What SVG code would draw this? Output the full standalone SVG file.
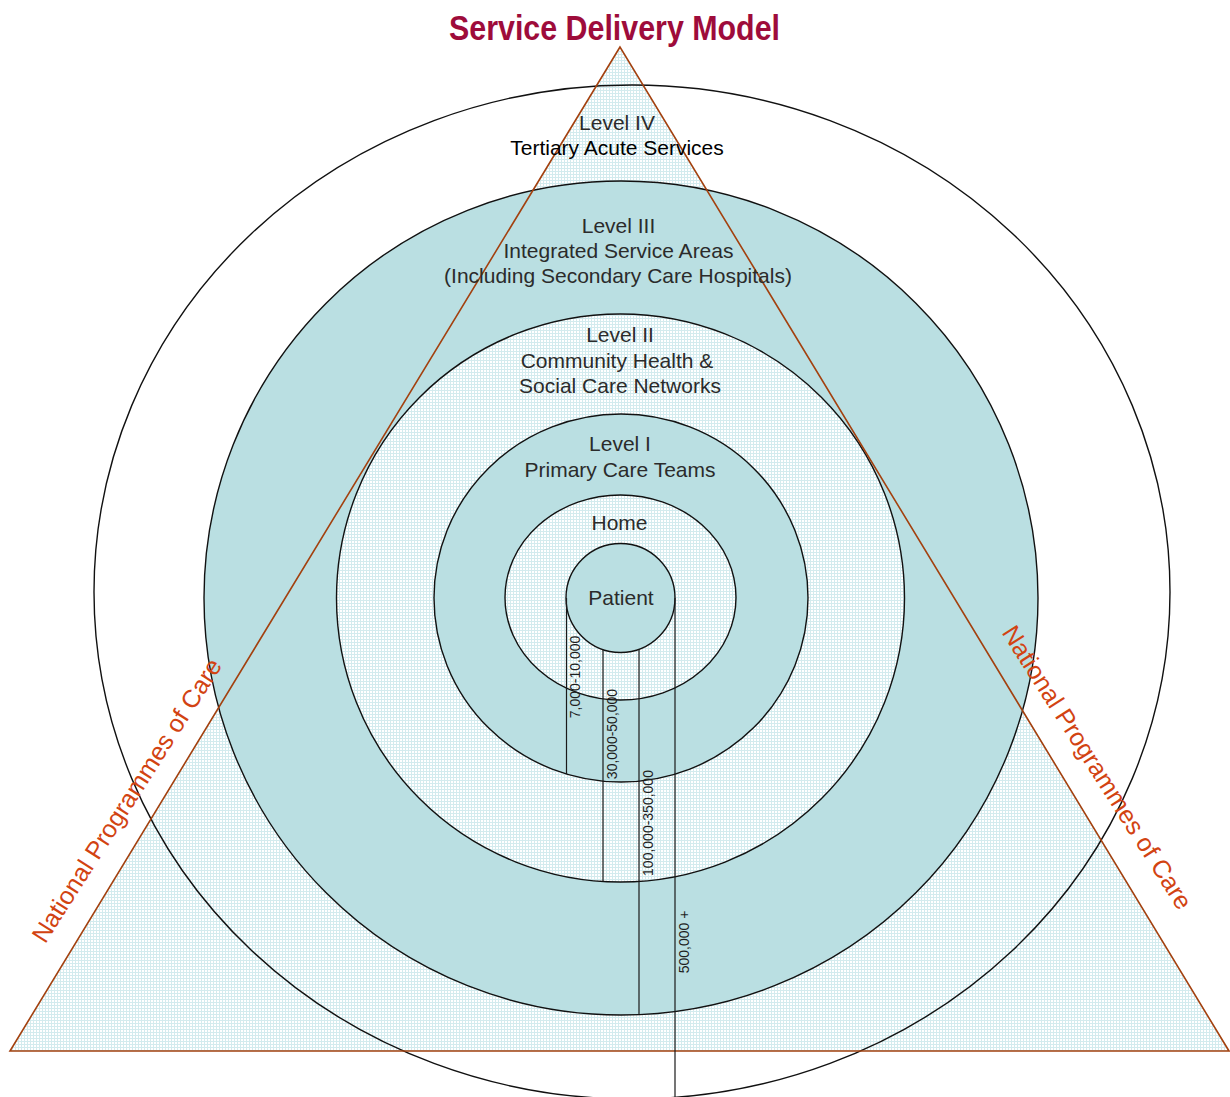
<svg xmlns="http://www.w3.org/2000/svg" width="1230" height="1097" viewBox="0 0 1230 1097">
  <defs>
    <!-- fine light-teal grid used for the "open" bands and the programme triangle -->
    <pattern id="grid" x="0" y="0" width="3" height="3" patternUnits="userSpaceOnUse">
      <rect width="3" height="3" fill="#ffffff"/>
      <rect width="3" height="1" fill="#d3ebee"/>
      <rect width="1" height="3" fill="#d3ebee"/>
    </pattern>
    <style>
      .ring { stroke: #111; stroke-width: 1.4; }
      .solid { fill: #badfe2; }
      .open { fill: url(#grid); }
      .edge { fill: none; stroke: #a3410f; stroke-width: 1.6; }
      .pop { stroke: #1a1a1a; stroke-width: 1.2; fill: none; }
      .lbl { font-family: "Liberation Sans", Arial, sans-serif; font-size: 21px; fill: #2b2b2b; text-anchor: middle; }
      .num { font-family: "Liberation Sans", Arial, sans-serif; font-size: 14px; fill: #1e1e1e; text-anchor: middle; }
      .npc { font-family: "Liberation Sans", Arial, sans-serif; font-size: 25px; fill: #d24312; text-anchor: middle; }
    </style>
  </defs>

  <rect width="1230" height="1097" fill="#ffffff"/>

  <!-- outermost band: tertiary services -->
  <g id="level-iv">
    <ellipse cx="632" cy="592" rx="538" ry="507" fill="#ffffff"/>
  </g>

  <!-- national programmes of care: shaded triangle area -->
  <g id="national-programmes">
    <polygon points="620,47 10,1051 1229,1051" class="open"/>
  </g>

  <g id="level-iv-outline">
    <ellipse cx="632" cy="592" rx="538" ry="507" fill="none" class="ring"/>
  </g>

  <g id="level-iii">
    <circle cx="621" cy="598" r="417" class="solid ring"/>
  </g>

  <g id="level-ii">
    <ellipse cx="620.5" cy="598" rx="284" ry="284" class="open ring"/>
  </g>

  <g id="level-i">
    <ellipse cx="621" cy="598" rx="187" ry="184" class="solid ring"/>
  </g>

  <g id="home">
    <ellipse cx="620.5" cy="597.5" rx="115.5" ry="102.5" class="open ring"/>
  </g>

  <g id="patient">
    <circle cx="620.5" cy="598" r="54.5" class="solid ring"/>
  </g>

  <!-- triangle outline sits above the bands -->
  <g id="national-programmes-edges">
    <polygon points="620,47 10,1051 1229,1051" class="edge"/>
  </g>

  <!-- population reach lines running from the patient outwards -->
  <g id="connectors">
    <line x1="566.5" y1="598" x2="566.5" y2="774" class="pop"/>
    <line x1="603" y1="650" x2="603" y2="881.5" class="pop"/>
    <line x1="639" y1="649.5" x2="639" y2="1014.5" class="pop"/>
    <line x1="675" y1="598" x2="675" y2="1097" class="pop"/>
  </g>

  <g id="population-labels">
    <text class="num" transform="translate(580,677) rotate(-90)">7,000-10,000</text>
    <text class="num" transform="translate(617,734) rotate(-90)">30,000-50,000</text>
    <text class="num" transform="translate(653,823) rotate(-90)">100,000-350,000</text>
    <text class="num" transform="translate(689,942) rotate(-90)">500,000 +</text>
  </g>

  <g id="band-labels">
    <text class="lbl" x="617" y="130">Level IV</text>
    <text class="lbl" x="617" y="155" style="fill:#000">Tertiary Acute Services</text>
    <text class="lbl" x="618.5" y="233">Level III</text>
    <text class="lbl" x="618.5" y="258">Integrated Service Areas</text>
    <text class="lbl" x="618" y="283">(Including Secondary Care Hospitals)</text>
    <text class="lbl" x="620" y="342">Level II</text>
    <text class="lbl" x="617" y="368">Community Health &amp;</text>
    <text class="lbl" x="620" y="393">Social Care Networks</text>
    <text class="lbl" x="620" y="451">Level I</text>
    <text class="lbl" x="620" y="477">Primary Care Teams</text>
    <text class="lbl" x="619.5" y="530">Home</text>
    <text class="lbl" x="621" y="605">Patient</text>
  </g>

  <g id="programme-labels">
    <text class="npc" transform="translate(134,805) rotate(-57.5)">National Programmes of Care</text>
    <text class="npc" transform="translate(1090,772) rotate(57.5)">National Programmes of Care</text>
  </g>

  <g id="title">
    <text x="614.5" y="40" text-anchor="middle" textLength="331" lengthAdjust="spacingAndGlyphs"
          style="font-family:'Liberation Sans Narrow','Liberation Sans',Arial,sans-serif;font-size:35px;font-weight:bold;fill:#9e0c3b">Service Delivery Model</text>
  </g>
</svg>
